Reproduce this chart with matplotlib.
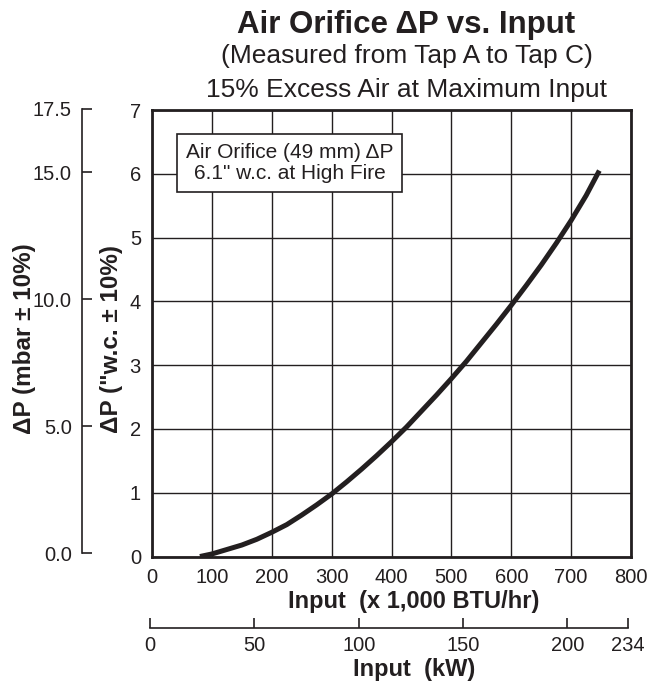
import matplotlib.pyplot as plt

plt.rcParams['font.family'] = ['Liberation Sans', 'DejaVu Sans']
INK = '#231f20'

# data
btu_input = [80, 100, 125, 150, 175, 200, 225, 250, 275, 300, 325, 350, 375,
             400, 425, 450, 475, 500, 525, 550, 575, 600, 625, 650, 675, 700,
             725, 747]
dp_wc = [0, 0.04, 0.11, 0.18, 0.27, 0.38, 0.5, 0.65, 0.81, 0.98, 1.17, 1.37,
         1.58, 1.8, 2.03, 2.28, 2.53, 2.79, 3.06, 3.35, 3.64, 3.94, 4.25, 4.57,
         4.91, 5.27, 5.66, 6.05]

btu_ticks = [0, 100, 200, 300, 400, 500, 600, 700, 800]
wc_ticks = [0, 1, 2, 3, 4, 5, 6, 7]
mbar_ticks = [0, 5, 10, 15, 17.5]
mbar_labels = ['0.0', '5.0', '10.0', '15.0', '17.5']
kw_ticks = [0, 50, 100, 150, 200]
kw_end = 229          # where the printed kW scale ends
kw_end_label = '234'

fig = plt.figure(figsize=(6.61, 6.82), dpi=100)

# main plot
ax = fig.add_axes([0.2300, 0.1840, 0.7247, 0.6547])
ax.plot(btu_input, dp_wc, color=INK, lw=3.6, solid_capstyle='butt')
ax.set_xlim(0, 800)
ax.set_ylim(0, 7)
ax.set_xticks(btu_ticks)
ax.set_yticks(wc_ticks)
ax.grid(True, color=INK, lw=1.0)
ax.set_axisbelow(True)
for s in ax.spines.values():
    s.set_linewidth(2.0)
    s.set_color(INK)
ax.tick_params(axis='both', length=0, labelsize=14.5, colors=INK)
ax.tick_params(axis='x', pad=8)
ax.tick_params(axis='y', pad=8)

ax.text(230, 6.17, 'Air Orifice (49 mm) \u0394P\n6.1" w.c. at High Fire',
        ha='center', va='center', fontsize=15, color=INK, linespacing=1.15,
        bbox=dict(boxstyle='square,pad=0.42', fc='white', ec=INK, lw=1.2))

# mbar scale on the far left
ax_mbar = fig.add_axes([0.1236, 0.1887, 0.0001, 0.6515])
ax_mbar.set_ylim(0, 17.5)
ax_mbar.set_yticks(mbar_ticks)
ax_mbar.set_yticklabels(mbar_labels)
ax_mbar.set_xticks([])
for k in ['top', 'right', 'bottom']:
    ax_mbar.spines[k].set_visible(False)
ax_mbar.spines['left'].set_linewidth(1.2)
ax_mbar.spines['left'].set_color(INK)
ax_mbar.tick_params(axis='y', direction='in', length=7, width=1.2,
                    labelsize=14.5, colors=INK, pad=7)
ax_mbar.patch.set_visible(False)

# kW scale underneath
ax_kw = fig.add_axes([0.2269, 0.0796, 0.7231, 0.0001])
ax_kw.set_xlim(0, kw_end)
ax_kw.set_xticks(kw_ticks + [kw_end])
ax_kw.set_xticklabels([str(t) for t in kw_ticks] + [kw_end_label])
ax_kw.set_yticks([])
for k in ['top', 'right', 'left']:
    ax_kw.spines[k].set_visible(False)
ax_kw.spines['bottom'].set_linewidth(1.2)
ax_kw.spines['bottom'].set_color(INK)
ax_kw.tick_params(axis='x', direction='in', length=7, width=1.2,
                  labelsize=14.5, colors=INK, pad=6)
ax_kw.patch.set_visible(False)

# titles and axis labels
fig.text(0.615, 0.9511, 'Air Orifice \u0394P vs. Input', ha='center',
         va='baseline', fontsize=22.5, fontweight='bold', color=INK)
fig.text(0.615, 0.9071, '(Measured from Tap A to Tap C)', ha='center',
         va='baseline', fontsize=19, color=INK)
fig.text(0.615, 0.8583, '15% Excess Air at Maximum Input', ha='center',
         va='baseline', fontsize=19, color=INK)

fig.text(0.6263, 0.1081, 'Input  (x 1,000 BTU/hr)', ha='center',
         va='baseline', fontsize=17, fontweight='bold', color=INK)
fig.text(0.6263, 0.0095, 'Input  (kW)', ha='center',
         va='baseline', fontsize=17, fontweight='bold', color=INK)

fig.text(0.1694, 0.503, '\u0394P ("w.c. \u00b1 10%)', rotation=90, ha='center',
         va='center', fontsize=17.5, fontweight='bold', color=INK)
fig.text(0.0378, 0.503, '\u0394P (mbar \u00b1 10%)', rotation=90, ha='center',
         va='center', fontsize=17.5, fontweight='bold', color=INK)

fig.savefig('out.png', dpi=100)
